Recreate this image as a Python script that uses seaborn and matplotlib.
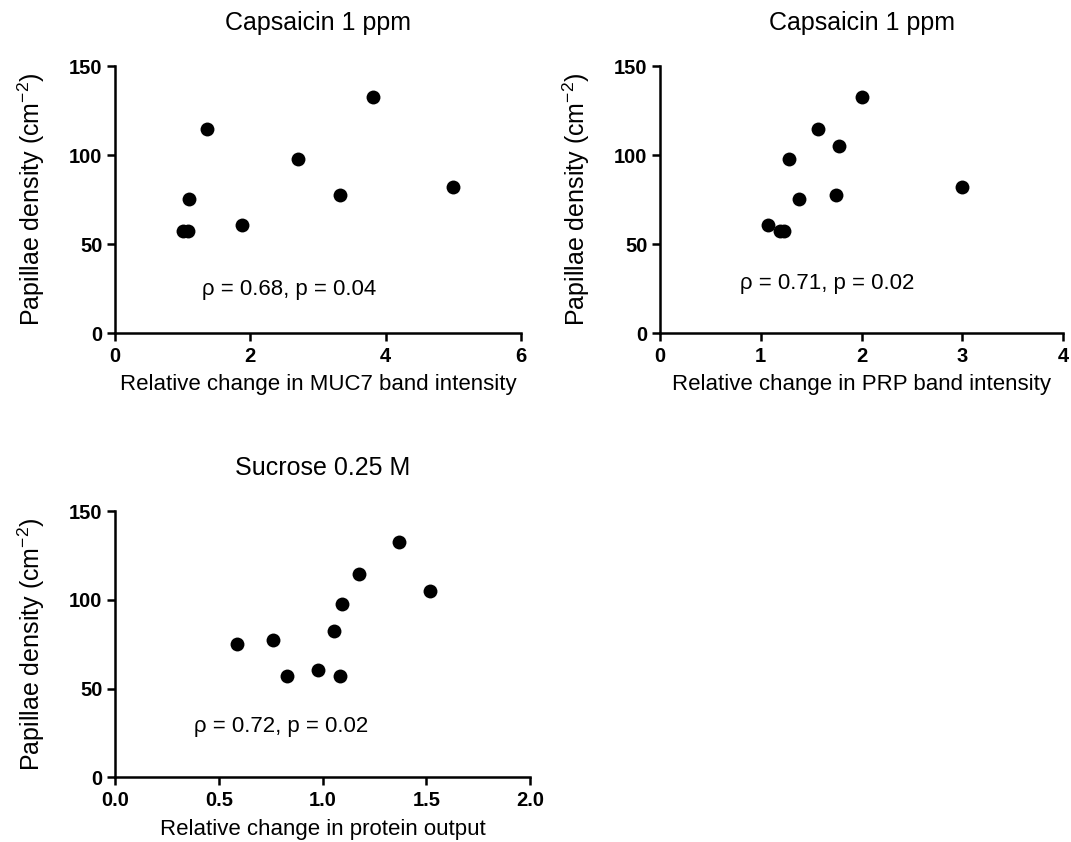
import numpy as np
import matplotlib
matplotlib.use("Agg")
import matplotlib.pyplot as plt
import pandas as pd
import seaborn as sns

sns.set_style("ticks")
plt.rcParams['font.family'] = ['Liberation Sans', 'DejaVu Sans']
plt.rcParams['mathtext.fontset'] = 'custom'
plt.rcParams['mathtext.rm'] = 'Liberation Sans'
for k in ['text.color', 'axes.edgecolor', 'axes.labelcolor', 'xtick.color', 'ytick.color']:
    plt.rcParams[k] = 'black'

# valores
muc7 = [1.00, 1.08, 1.10, 1.36, 1.87, 2.70, 3.33, 3.81, 4.99]
dens_muc7 = [57.2, 57.2, 75.6, 114.7, 60.9, 97.7, 77.4, 132.5, 82.3]

prp = [1.075, 1.19, 1.23, 1.277, 1.38, 1.57, 1.75, 1.776, 2.00, 3.00]
dens_prp = [60.9, 57.2, 57.2, 97.7, 75.6, 114.7, 77.4, 105.2, 132.5, 82.3]

prot = [0.59, 0.763, 0.829, 0.977, 1.054, 1.084, 1.095, 1.174, 1.369, 1.518]
dens_prot = [75.3, 77.1, 57.1, 60.6, 82.2, 57.1, 97.6, 114.7, 132.3, 105.1]

titulos = ["Capsaicin 1 ppm", "Capsaicin 1 ppm", "Sucrose 0.25 M"]
xlabels = ["Relative change in MUC7 band intensity",
           "Relative change in PRP band intensity",
           "Relative change in protein output"]
stats = ["\u03c1 = 0.68, p = 0.04", "\u03c1 = 0.71, p = 0.02", "\u03c1 = 0.72, p = 0.02"]

fig = plt.figure(figsize=(10.71, 8.42), dpi=100)
posiciones = [[0.1074, 0.6045, 0.379, 0.3167],
              [0.6162, 0.6045, 0.3766, 0.3167],
              [0.1074, 0.0768, 0.3875, 0.3163]]
datos = [(muc7, dens_muc7, [0, 2, 4, 6], "%d"),
         (prp, dens_prp, [0, 1, 2, 3, 4], "%d"),
         (prot, dens_prot, [0.0, 0.5, 1.0, 1.5, 2.0], "%.1f")]
texto_pos = [(0.2135, 0.162), (0.198, 0.1875), (0.191, 0.19)]

for i in range(3):
    ax = fig.add_axes(posiciones[i])
    x, y, xt, fmt = datos[i]
    df = pd.DataFrame({'x': x, 'y': y})
    sns.scatterplot(data=df, x='x', y='y', ax=ax, color='black', s=100,
                    edgecolor='black', linewidth=0, clip_on=False)
    ax.set_xlim(xt[0], xt[-1])
    ax.set_ylim(0, 150)
    ax.set_xticks(xt)
    ax.set_xticklabels([fmt % v for v in xt])
    ax.set_yticks([0, 50, 100, 150])
    sns.despine(ax=ax)
    for sp in ['left', 'bottom']:
        ax.spines[sp].set_linewidth(1.8)
    ax.tick_params(width=1.8, length=6, labelsize=14.5, pad=3)
    ax.tick_params(axis='x', pad=4)
    for lab in ax.get_xticklabels() + ax.get_yticklabels():
        lab.set_fontweight('bold')
    ax.set_title(titulos[i], fontsize=18, pad=26)
    ax.set_xlabel(xlabels[i], fontsize=16, labelpad=6)
    ax.set_ylabel("Papillae density (cm$^{\\mathregular{-2}}$)", fontsize=18, labelpad=16)
    ax.text(texto_pos[i][0], texto_pos[i][1], stats[i], transform=ax.transAxes,
            fontsize=16, va='center', ha='left')

fig.savefig("out.png", dpi=100)
